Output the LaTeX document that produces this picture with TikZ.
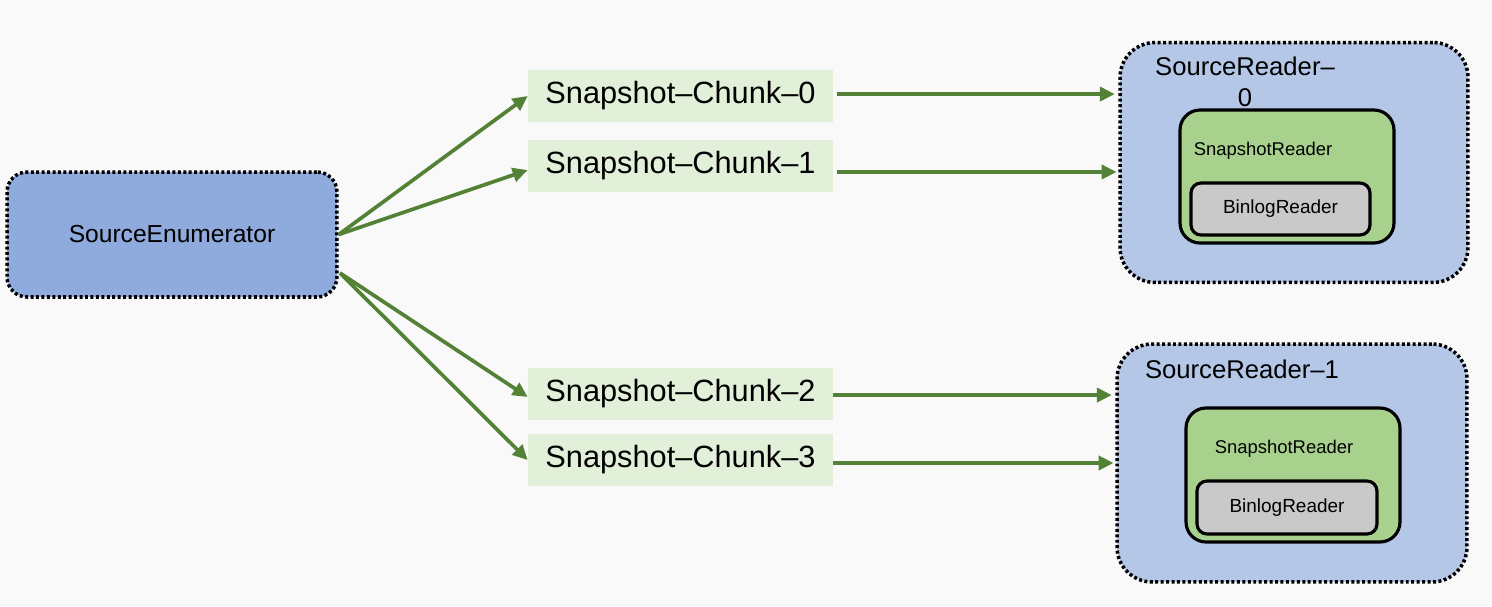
\documentclass[tikz,border=0pt]{standalone}
\usepackage{fontspec}
\setmainfont{Liberation Sans}
\definecolor{pagegray}{HTML}{F9F9F9}
\definecolor{enumblue}{HTML}{8FAADC}
\definecolor{readerblue}{HTML}{B4C7E7}
\definecolor{chunkgreen}{HTML}{E2F0D9}
\definecolor{snapgreen}{HTML}{A9D18E}
\definecolor{binloggray}{HTML}{C9C9C9}
\definecolor{arrowgreen}{HTML}{538135}
\usetikzlibrary{calc, positioning, arrows.meta}

\begin{document}
\begin{tikzpicture}[
  x=0.02cm, y=-0.02cm,
  dotbox/.style={draw=black, line width=2pt, dash pattern=on 1.7pt off 1.4pt,
    inner sep=0pt},
  enumbox/.style={dotbox, fill=enumblue, rounded corners=0.4cm,
    minimum width=6.6cm, minimum height=2.5cm, font=\fontsize{14}{17}\selectfont},
  readerbox/.style={dotbox, fill=readerblue, rounded corners=0.7cm,
    minimum width=6.96cm, minimum height=4.8cm},
  chunkbox/.style={fill=chunkgreen, minimum width=6.1cm, minimum height=1.04cm,
    inner sep=0pt, font=\fontsize{17.5}{20}\selectfont},
  snapbox/.style={draw=black, line width=1.8pt, fill=snapgreen, rounded corners=0.4cm,
    minimum width=4.28cm, minimum height=2.66cm, inner sep=0pt},
  binbox/.style={draw=black, line width=1.8pt, fill=binloggray, rounded corners=0.2cm,
    minimum width=3.58cm, minimum height=1.04cm, inner sep=0pt,
    font=\fontsize{10.8}{13}\selectfont},
  lbl/.style={inner sep=0pt, align=center},
  arw/.style={-{Triangle[length=8.5pt, width=8pt]}, line width=2.1pt, arrowgreen},
]
\fill[pagegray] (0,0) rectangle (1492,606);
\useasboundingbox (0,0) rectangle (1492,606);

% enumerator
\node[enumbox] (enum) at (172,234.5) {SourceEnumerator};
\coordinate (enumlo) at (340,273);

% chunks
\node[chunkbox] (c0) at (680.5,96) {Snapshot--Chunk--0};
\node[chunkbox] (c1) at (680.5,166) {Snapshot--Chunk--1};
\node[chunkbox] (c2) at (680.5,394) {Snapshot--Chunk--2};
\node[chunkbox] (c3) at (680.5,460) {Snapshot--Chunk--3};

% reader 0
\node[readerbox] (r0) at (1294,162.5) {};
\node[lbl, font=\fontsize{14.6}{17.5}\selectfont] (r0lbl) at (1245,82) {SourceReader--\\0};
\node[snapbox] (s0) at (1287,176.5) {};
\node[lbl, font=\fontsize{10.5}{13}\selectfont] (s0lbl) at (1263,151) {SnapshotReader};
\node[binbox] (b0) at (1280.5,209) {BinlogReader};

% reader 1
\node[readerbox, minimum width=7cm, minimum height=4.76cm] (r1) at (1292,463) {};
\node[lbl, font=\fontsize{14.6}{17.5}\selectfont] (r1lbl) at (1242,369) {SourceReader--1};
\node[snapbox, minimum height=2.68cm] (s1) at (1293,475) {};
\node[lbl, font=\fontsize{10.5}{13}\selectfont] (s1lbl) at (1284,449) {SnapshotReader};
\node[binbox, minimum width=3.6cm, minimum height=1.06cm] (b1) at (1287,507.5) {BinlogReader};

% arrows
\draw[arw] (enum.east) -- (c0.west);
\draw[arw] (enum.east) -- ([yshift=-2.3pt]c1.west);
\draw[arw] (enumlo) -- ([yshift=-1.7pt]c2.west);
\draw[arw] (enumlo) -- (c3.west);
\draw[arw, shorten <=2pt, shorten >=2pt] ([yshift=1.1pt]c0.east) -- ([yshift=1.1pt]c0.east -| r0.west);
\draw[arw, shorten <=2pt, shorten >=1pt] ([yshift=-3.4pt]c1.east) -- ([yshift=-3.4pt]c1.east -| r0.west);
\draw[arw, shorten >=2pt] ([yshift=-0.6pt]c2.east) -- ([yshift=-0.6pt]c2.east -| r1.west);
\draw[arw, shorten >=1pt] ([yshift=-1.7pt]c3.east) -- ([yshift=-1.7pt]c3.east -| r1.west);
\end{tikzpicture}
\end{document}
